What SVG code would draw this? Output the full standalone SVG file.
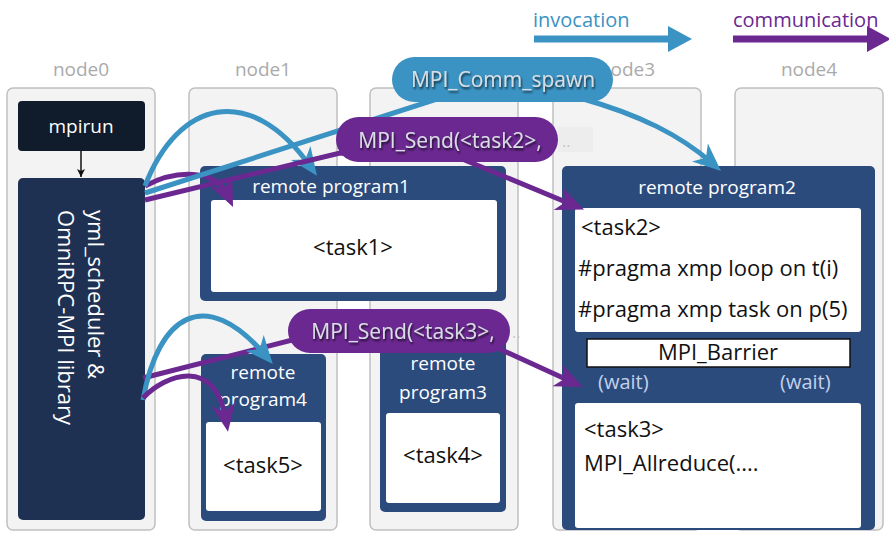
<svg xmlns="http://www.w3.org/2000/svg" width="889" height="533" viewBox="0 0 889 533">
<style>
text{font-family:"Open Sans",Lato,"Liberation Sans",sans-serif}
.col{fill:#f3f3f3;stroke:#c0c0c0;stroke-width:1.5}
.nl{font-size:19px;fill:#aaaaaa;text-anchor:middle}
.rp{fill:#2b4b7d}
.in{fill:#ffffff}
.wt{fill:#ffffff;font-size:19px;text-anchor:middle}
.bk{fill:#111111;font-size:22px}
.bl{fill:none;stroke:#3a93c3;stroke-width:5}
.pu{fill:none;stroke:#6b2891;stroke-width:5}
.bt{font-size:21px;fill:#d9dee4;text-anchor:middle}
.wait{fill:#c3d1ec;font-size:20px}
</style>
<defs>
<marker id="ab" viewBox="-30 -14 32 28" refX="-12" refY="0" markerWidth="32" markerHeight="28" orient="auto" markerUnits="userSpaceOnUse"><path d="M0,0 L-28,-12 L-20,0 L-28,12 Z" fill="#3a93c3"/></marker>
<marker id="ap" viewBox="-30 -14 32 28" refX="-12" refY="0" markerWidth="32" markerHeight="28" orient="auto" markerUnits="userSpaceOnUse"><path d="M0,0 L-28,-12 L-20,0 L-28,12 Z" fill="#6b2891"/></marker>
<marker id="ak" viewBox="-8 -5 9 10" refX="0" refY="0" markerWidth="9" markerHeight="10" orient="auto" markerUnits="userSpaceOnUse"><path d="M0,0 L-8,-4 L-6,0 L-8,4 Z" fill="#111"/></marker>
<filter id="sh" x="-10%" y="-30%" width="120%" height="160%"><feGaussianBlur in="SourceAlpha" stdDeviation="1.3" result="b"/><feOffset in="b" dx="1" dy="1.5" result="o"/><feComponentTransfer in="o" result="s"><feFuncA type="linear" slope="0.75"/></feComponentTransfer><feGaussianBlur in="SourceGraphic" stdDeviation="0.4" result="g"/><feMerge><feMergeNode in="s"/><feMergeNode in="g"/></feMerge></filter>
</defs>

<g id="node0"><rect class="col" x="7" y="88" width="148" height="442" rx="6"/><text class="nl" x="81" y="76">node0</text></g>
<g id="node1"><rect class="col" x="189" y="88" width="148" height="442" rx="6"/><text class="nl" x="263" y="76">node1</text></g>
<g id="node2"><rect class="col" x="370" y="88" width="148" height="442" rx="6"/></g>
<g id="node3"><rect class="col" x="553" y="88" width="148" height="442" rx="6"/><text class="nl" x="627" y="76">node3</text></g>
<g id="node4"><rect class="col" x="735" y="88" width="148" height="442" rx="6"/><text class="nl" x="809" y="76">node4</text></g>

<g id="mpirun"><rect x="18" y="101" width="127" height="50" rx="4" fill="#101b2c"/><text class="wt" x="81" y="133" font-size="20">mpirun</text></g>
<g id="scheduler"><rect x="18" y="178" width="127" height="342" rx="5" fill="#1f3152"/>
<text fill="#ffffff" font-size="22" transform="translate(88,210) rotate(90)">yml_scheduler &amp;</text>
<text fill="#ffffff" font-size="22" transform="translate(58,210) rotate(90)">OmniRPC-MPI library</text></g>

<g id="rp1"><rect class="rp" x="200" y="166" width="306" height="135" rx="5"/><text class="wt" x="331" y="193">remote program1</text><rect class="in" x="211" y="200" width="286" height="92" rx="3"/><text class="bk" x="353" y="255" text-anchor="middle">&lt;task1&gt;</text></g>

<g id="rp4"><rect class="rp" x="201" y="354" width="125" height="167" rx="5"/><text class="wt" x="263" y="379">remote</text><text class="wt" x="263" y="406">program4</text><rect class="in" x="206" y="422" width="115" height="89" rx="3"/><text class="bk" x="263" y="473" text-anchor="middle">&lt;task5&gt;</text></g>

<g id="rp3"><rect class="rp" x="380" y="338" width="126" height="174" rx="5"/><text class="wt" x="443" y="370">remote</text><text class="wt" x="443" y="399">program3</text><rect class="in" x="386" y="413" width="114" height="90" rx="3"/><text class="bk" x="443" y="463" text-anchor="middle">&lt;task4&gt;</text></g>

<g id="rp2"><rect class="rp" x="562" y="166" width="313" height="364" rx="5"/><text class="wt" x="717" y="194">remote program2</text>
<rect class="in" x="575" y="208" width="286" height="124" rx="3"/>
<text class="bk" x="581" y="235">&lt;task2&gt;</text>
<text class="bk" x="578" y="276">#pragma xmp loop on t(i)</text>
<text class="bk" x="578" y="317">#pragma xmp task on p(5)</text>
<rect x="587" y="339" width="263" height="28" fill="#ffffff" stroke="#111" stroke-width="1.5"/>
<text class="bk" x="718" y="360" text-anchor="middle" font-size="19">MPI_Barrier</text>
<text class="wait" x="598" y="389">(wait)</text><text class="wait" x="780" y="389">(wait)</text>
<rect class="in" x="575" y="403" width="286" height="125" rx="3"/>
<text class="bk" x="584" y="437">&lt;task3&gt;</text>
<text class="bk" x="584" y="471" font-size="21">MPI_Allreduce(....</text></g>

<g id="connectors">
<line x1="81" y1="151" x2="81" y2="177" stroke="#111" stroke-width="1.5" marker-end="url(#ak)"/>
<path class="pu" d="M145,186 C175,170 215,168 228,196" marker-end="url(#ap)"/>
<path class="bl" d="M145,186 C178,100 250,82 310,166" marker-end="url(#ab)"/>
<path class="bl" d="M145,193 L440,98 L580,98 C640,115 680,135 712,163" marker-end="url(#ab)"/>
<path class="pu" d="M145,200 L340,153 L455,156 L573,205" marker-end="url(#ap)"/>
<path class="pu" d="M143,378 L300,338 L480,340 L572,382" marker-end="url(#ap)"/>
<path class="bl" d="M143,400 C158,315 205,285 265,355" marker-end="url(#ab)"/>
<path class="pu" d="M143,398 C165,375 215,355 226,420" marker-end="url(#ap)"/>
</g>

<g id="spawn"><rect x="392" y="57" width="221" height="45" rx="22.5" fill="#3a93c3"/><text class="bt" x="503" y="87" filter="url(#sh)">MPI_Comm_spawn</text></g>
<g id="send2"><rect x="558" y="127" width="35" height="25" fill="#ededed"/><text x="562" y="147" fill="#c8c8c8" font-size="16">..</text><rect x="336" y="117" width="222" height="45" rx="22.5" fill="#6b2891"/><text class="bt" x="450" y="148" font-size="22" filter="url(#sh)">MPI_Send(&lt;task2&gt;,</text></g>
<g id="send3"><text x="512" y="338" fill="#c8c8c8" font-size="16">..</text><rect x="288" y="309" width="222" height="44" rx="22" fill="#6b2891"/><text class="bt" x="403" y="339" font-size="22" filter="url(#sh)">MPI_Send(&lt;task3&gt;,</text></g>

<g id="legend">
<text x="533" y="27" fill="#3a93c3" font-size="20">invocation</text>
<line x1="534" y1="39" x2="670" y2="39" stroke="#3a93c3" stroke-width="7"/><polygon points="668,26 692,39 668,52" fill="#3a93c3"/>
<text x="733" y="27" fill="#6b2891" font-size="20">communication</text>
<line x1="733" y1="39" x2="869" y2="39" stroke="#6b2891" stroke-width="7"/><polygon points="867,26 891,39 867,52" fill="#6b2891"/>
</g>
</svg>
